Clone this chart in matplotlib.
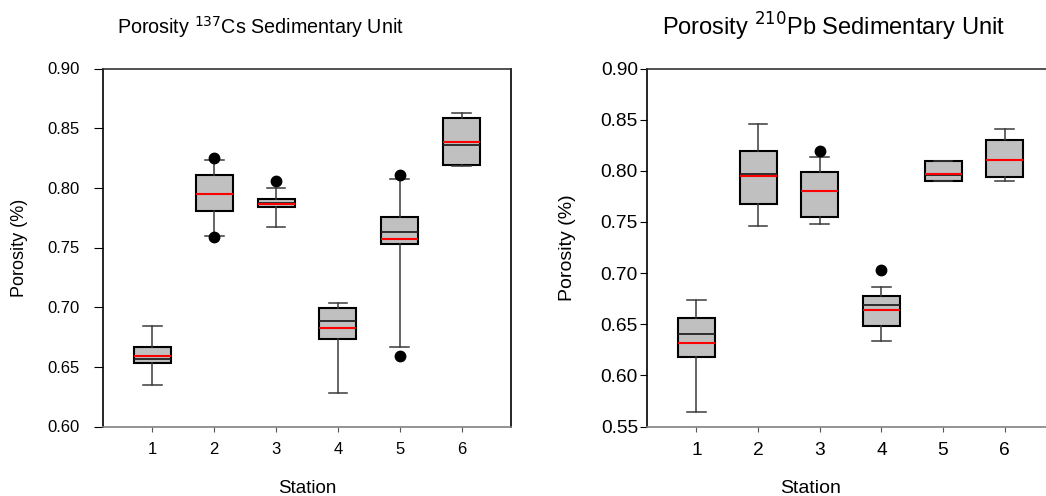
import matplotlib.pyplot as plt

plt.rcParams['font.family'] = ['Liberation Sans', 'DejaVu Sans']

stations = [1, 2, 3, 4, 5, 6]

# Porosity 137Cs unit
cs_whislo = [0.6345, 0.7597, 0.7670, 0.6284, 0.6666, 0.8179]
cs_q1 = [0.6530, 0.7810, 0.7837, 0.6731, 0.7527, 0.8195]
cs_med = [0.6569, 0.7950, 0.7872, 0.6884, 0.7628, 0.8363]
cs_mean = [0.6588, 0.7946, 0.7868, 0.6823, 0.7572, 0.8385]
cs_q3 = [0.6664, 0.8111, 0.7904, 0.6991, 0.7759, 0.8583]
cs_whishi = [0.6842, 0.8237, 0.8002, 0.7033, 0.8078, 0.8628]
cs_fliers = [[], [0.8246, 0.7588], [0.8058], [], [0.8106, 0.6591], []]

# Porosity 210Pb unit
pb_whislo = [0.5644, 0.7460, 0.7483, 0.6337, 0.7896, 0.7902]
pb_q1 = [0.6178, 0.7678, 0.7545, 0.6480, 0.7896, 0.7935]
pb_med = [0.6402, 0.7965, 0.7802, 0.6692, 0.7955, 0.8110]
pb_mean = [0.6320, 0.7948, 0.7800, 0.6637, 0.7968, 0.8108]
pb_q3 = [0.6559, 0.8189, 0.7990, 0.6773, 0.8092, 0.8297]
pb_whishi = [0.6737, 0.8459, 0.8134, 0.6864, 0.8092, 0.8410]
pb_fliers = [[], [], [0.8192], [0.7030], [], []]


def box_stats(whislo, q1, med, mean, q3, whishi, fliers):
    stats = []
    for i in range(len(med)):
        stats.append(dict(whislo=whislo[i], q1=q1[i], med=med[i], mean=mean[i],
                          q3=q3[i], whishi=whishi[i], fliers=fliers[i]))
    return stats


def draw_panel(ax, stats, ylim, tick_fs, ypad, ylen):
    ax.bxp(stats, positions=stations, widths=0.6, capwidths=0.3,
           patch_artist=True, showmeans=True, meanline=True,
           boxprops=dict(facecolor='#c0c0c0', edgecolor='black', linewidth=1.5),
           medianprops=dict(color='#222222', linewidth=1.3),
           meanprops=dict(color='red', linestyle='-', linewidth=1.5),
           whiskerprops=dict(color='#3a3a3a', linewidth=1.1),
           capprops=dict(color='#3a3a3a', linewidth=1.1),
           flierprops=dict(marker='o', markerfacecolor='black',
                           markeredgecolor='black', markersize=7.5))
    ax.set_xlim(0.2, 6.8)
    ax.set_ylim(*ylim)
    ax.set_yticks([round(ylim[0] + 0.05 * k, 2) for k in range(int(round((ylim[1] - ylim[0]) / 0.05)) + 1)])
    ax.set_yticklabels(['%.2f' % t for t in ax.get_yticks()])
    ax.set_xticks(stations)
    ax.set_xticklabels([str(s) for s in stations])
    ax.tick_params(axis='y', direction='out', length=ylen, pad=ypad, labelsize=tick_fs)
    ax.tick_params(axis='x', direction='out', length=3.5, pad=8, labelsize=tick_fs,
                   color='#555555')
    ax.spines['left'].set_color('black')
    ax.spines['right'].set_color('black')
    ax.spines['top'].set_color('#333333')
    ax.spines['bottom'].set_color('#808080')
    for sp in ax.spines.values():
        sp.set_linewidth(1.2)


fig = plt.figure(figsize=(10.46, 4.96), dpi=100)
ax1 = fig.add_axes([103 / 1046, 69.5 / 496, 408 / 1046, 358 / 496])
ax2 = fig.add_axes([647 / 1046, 69.5 / 496, 407 / 1046, 358 / 496])

draw_panel(ax1, box_stats(cs_whislo, cs_q1, cs_med, cs_mean, cs_q3, cs_whishi, cs_fliers),
           (0.60, 0.90), 12, 10, 6.5)
draw_panel(ax2, box_stats(pb_whislo, pb_q1, pb_med, pb_mean, pb_q3, pb_whishi, pb_fliers),
           (0.55, 0.90), 13.8, 1.5, 5)

ax1.set_xlabel('Station', fontsize=13.5)
ax1.xaxis.set_label_coords(0.5, -0.15)
ax1.set_ylabel('Porosity (%)', fontsize=13)
ax1.yaxis.set_label_coords(-0.185, 0.5)

ax2.set_xlabel('Station', fontsize=14)
ax2.xaxis.set_label_coords((811 - 647) / 407, -0.15)
ax2.set_ylabel('Porosity (%)', fontsize=14)
ax2.yaxis.set_label_coords(-0.175, 0.5)

fig.text(260 / 1046, 1 - 27 / 496, r'Porosity $^{137}$Cs Sedimentary Unit',
         fontsize=14.2, ha='center', va='center')
fig.text(833 / 1046, 1 - 27 / 496, r'Porosity $^{210}$Pb Sedimentary Unit',
         fontsize=17, ha='center', va='center')

fig.savefig('out.png', dpi=100)
